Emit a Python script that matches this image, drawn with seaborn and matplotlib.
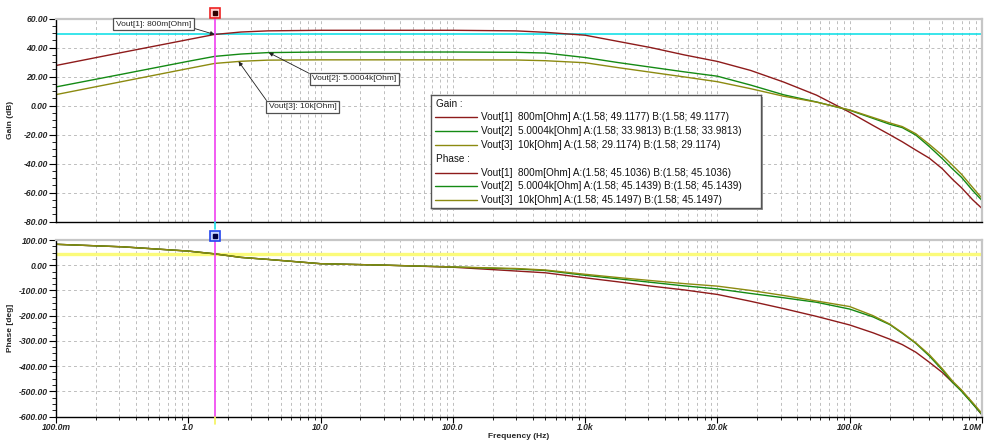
import matplotlib
matplotlib.use("Agg")
import numpy as np
import pandas as pd
import matplotlib.pyplot as plt
import matplotlib.transforms as mtransforms
from matplotlib.patches import Rectangle
from matplotlib.ticker import FixedLocator, LogLocator, MultipleLocator, NullFormatter
import seaborn as sns

# ---- data -------------------------------------------------------------
freq_hz = [0.1, 0.316, 1.0, 1.58, 2.5, 4.0, 10.0, 31.6, 100.0, 300.0, 500.0,
           1e3, 1.78e3, 3.16e3, 5.62e3, 1e4, 1.78e4, 3.16e4, 5.62e4, 1e5,
           1.5e5, 2e5, 2.5e5, 3.16e5, 4e5, 5e5, 6e5, 7e5, 8.5e5, 1e6]

series_names = ["Vout[1]", "Vout[2]", "Vout[3]"]
series_loads = ["800m[Ohm]", "5.0004k[Ohm]", "10k[Ohm]"]

gain_vout1 = [27.7, 36.7, 45.6, 49.1177, 50.8, 51.6, 52.0, 52.0, 52.0, 51.6, 50.6,
              48.6, 44.3, 40.0, 35.0, 30.5, 24.3, 16.3, 7.2, -4.6,
              -13.7, -20.0, -25.0, -30.7, -36.3, -43.5, -51.0, -56.7, -65.0, -71.0]
gain_vout2 = [12.9, 21.7, 30.6, 33.9813, 35.6, 36.6, 37.0, 37.0, 37.0, 36.8, 36.3,
              33.2, 29.7, 26.5, 23.3, 20.3, 14.2, 7.5, 2.5, -3.2,
              -8.8, -12.8, -15.2, -20.3, -28.3, -36.5, -43.8, -49.5, -58.6, -65.5]
gain_vout3 = [7.6, 16.6, 25.6, 29.1174, 30.6, 31.4, 31.6, 31.6, 31.6, 31.5, 31.0,
              29.6, 26.2, 23.0, 19.8, 16.5, 11.7, 6.5, 2.4, -3.0,
              -8.2, -11.9, -14.5, -19.4, -26.8, -34.3, -41.3, -47.4, -56.5, -64.0]

phase_vout1 = [83, 73, 56, 45.1036, 31, 23, 6, 0, -8, -23, -30,
               -50, -66, -83, -98, -116, -143, -172, -203, -237,
               -268, -293, -315, -345, -385, -425, -465, -497, -548, -594]
phase_vout2 = [83, 73, 56, 45.1439, 31, 23, 6, 0, -7, -15, -21,
               -40, -54, -68, -82, -94, -112, -129, -147, -174,
               -205, -235, -270, -310, -360, -415, -465, -500, -550, -592]
phase_vout3 = [83, 73, 56, 45.1497, 31, 23, 6, 0, -7, -13, -19,
               -36, -49, -61, -73, -83, -100, -120, -142, -164,
               -200, -233, -268, -308, -355, -410, -460, -495, -545, -588]

cursor_freq = 1.58
gain_cursor = [49.1177, 33.9813, 29.1174]
phase_cursor = [45.1036, 45.1439, 45.1497]

decade_ticks = [0.1, 1, 10, 100, 1e3, 1e4, 1e5, 1e6]
decade_labels = ["100.0m", "1.0", "10.0", "100.0", "1.0k", "10.0k", "100.0k", "1.0M"]
gain_ticks = [-80, -60, -40, -20, 0, 20, 40, 60]
phase_ticks = [-600, -500, -400, -300, -200, -100, 0, 100]

line_colors = ["#8e1b1b", "#148a14", "#8c8a10"]

# ---- long-form tables for seaborn ------------------------------------------
gain_df = pd.concat([
    pd.DataFrame({"freq": freq_hz, "value": v, "series": n})
    for n, v in zip(series_names, [gain_vout1, gain_vout2, gain_vout3])
])
phase_df = pd.concat([
    pd.DataFrame({"freq": freq_hz, "value": v, "series": n})
    for n, v in zip(series_names, [phase_vout1, phase_vout2, phase_vout3])
])

sns.set_theme(style="white")
plt.rcParams["font.family"] = ["Liberation Sans", "DejaVu Sans"]

W, H = 986, 445
fig = plt.figure(figsize=(W / 100, H / 100), dpi=100)
fig.patch.set_facecolor("white")

x0, x1 = 56, 982
ax_g = fig.add_axes([x0 / W, 1 - 221.5 / H, (x1 - x0) / W, (221.5 - 18.7) / H])
ax_p = fig.add_axes([x0 / W, 1 - 416.5 / H, (x1 - x0) / W, (416.5 - 240) / H])

grid_kw = dict(color="#bdbdbd", linestyle=(0, (3, 3)), linewidth=0.7)
tick_font = dict(family="Liberation Sans", weight="bold", style="italic", size=6.2)

for ax, df, ticks, minor in ((ax_g, gain_df, gain_ticks, 5), (ax_p, phase_df, phase_ticks, 25)):
    sns.lineplot(data=df, x="freq", y="value", hue="series", hue_order=series_names,
                 palette=line_colors, estimator=None, sort=False, legend=False,
                 linewidth=1.0, ax=ax)
    ax.set_xscale("log")
    ax.set_xlim(0.1, 1e6)
    ax.set_ylim(ticks[0], ticks[-1])
    ax.xaxis.set_major_locator(FixedLocator(decade_ticks))
    ax.xaxis.set_minor_locator(LogLocator(base=10, subs=np.arange(2, 10)))
    ax.xaxis.set_minor_formatter(NullFormatter())
    ax.yaxis.set_major_locator(FixedLocator(ticks))
    ax.yaxis.set_minor_locator(MultipleLocator(minor))
    ax.set_yticklabels([f"{t:.2f}" for t in ticks], fontdict=tick_font)
    ax.grid(which="both", axis="x", **grid_kw)
    ax.grid(which="major", axis="y", **grid_kw)
    ax.set_axisbelow(True)
    ax.set_facecolor("white")
    for side in ("top", "right"):
        ax.spines[side].set_color("#c6c6c6")
        ax.spines[side].set_linewidth(1.6)
    for side in ("left", "bottom"):
        ax.spines[side].set_color("black")
        ax.spines[side].set_linewidth(1.0)
    ax.tick_params(axis="y", which="major", direction="out", length=5, width=0.8,
                   color="black", pad=1, left=True)
    ax.tick_params(axis="y", which="minor", direction="out", length=3, width=0.6,
                   color="black", left=True)
    ax.set_xlabel("")
    ax.yaxis.set_label_coords((14 - x0) / (x1 - x0), 0.5)

ax_g.tick_params(axis="x", which="both", length=0, labelbottom=False)
ax_p.tick_params(axis="x", which="major", direction="out", length=4, width=0.8,
                 color="black", pad=1, bottom=True)
ax_p.tick_params(axis="x", which="minor", direction="out", length=2.5, width=0.6,
                 color="black", bottom=True)
ax_p.set_xticklabels(decade_labels, fontdict=tick_font)
ax_p.get_xticklabels()[-1].set_horizontalalignment("right")

label_font = dict(family="Liberation Sans", weight="bold", size=6)
ax_g.set_ylabel("Gain (dB)", fontdict=label_font)
ax_p.set_ylabel("Phase [deg]", fontdict=label_font)
fig.text((x0 + x1) / 2 / W, 1 - 437 / H, "Frequency (Hz)", ha="center", va="center",
         fontdict=label_font)

# ---- cursor: level lines, vertical marker line and handles ---------------------------
ax_g.axhline(gain_cursor[0], color="#16e0e8", linewidth=1.2, zorder=1.5)
ax_p.axhline(phase_cursor[0], color="#fbfb7a", linewidth=2.4, zorder=1.5)

blend_g = mtransforms.blended_transform_factory(ax_g.transData, ax_g.transAxes)
blend_p = mtransforms.blended_transform_factory(ax_p.transData, ax_p.transAxes)

ax_g.plot([cursor_freq, cursor_freq], [0, 1.028], transform=blend_g, color="#f040f0",
          linewidth=1.2, clip_on=False, zorder=4)
ax_g.plot([cursor_freq, cursor_freq], [-0.037, 0], transform=blend_g, color="#16e0e8",
          linewidth=1.2, clip_on=False, zorder=4)
ax_p.plot([cursor_freq, cursor_freq], [0, 1.02], transform=blend_p, color="#f040f0",
          linewidth=1.2, clip_on=False, zorder=4)
ax_p.plot([cursor_freq, cursor_freq], [-0.04, 0], transform=blend_p, color="#f4f45a",
          linewidth=1.2, clip_on=False, zorder=4)

ax_g.plot([cursor_freq], [1.028], transform=blend_g, marker="s", markersize=6.5,
          markerfacecolor="#ffd0d0", markeredgecolor="#ee2222", markeredgewidth=1.2,
          clip_on=False, zorder=6)
ax_g.plot([cursor_freq], [1.028], transform=blend_g, marker="s", markersize=2.6,
          color="#300000", clip_on=False, zorder=7)
ax_p.plot([cursor_freq], [1.02], transform=blend_p, marker="s", markersize=6.5,
          markerfacecolor="#c8d4ff", markeredgecolor="#2244ee", markeredgewidth=1.2,
          clip_on=False, zorder=6)
ax_p.plot([cursor_freq], [1.02], transform=blend_p, marker="s", markersize=2.6,
          color="#000040", clip_on=False, zorder=7)

# ---- curve tags -------------------------------------------------------------------
tag_box = dict(boxstyle="square,pad=0.3", facecolor="white", edgecolor="#505050", linewidth=0.9)
tags = [
    (f"{series_names[0]}: {series_loads[0]}", (cursor_freq, gain_cursor[0]), (153.5, H - 24), (1, 0)),
    (f"{series_names[1]}: {series_loads[1]}", (4.06, 36.6), (354.5, H - 78.5), (0, 1)),
    (f"{series_names[2]}: {series_loads[2]}", (2.4, 30.5), (302.5, H - 107), (0, 1)),
]
for text, xy, xytext, rel in tags:
    ax_g.annotate(text, xy=xy, xycoords="data", xytext=xytext, textcoords="figure pixels",
                  ha="center", va="center", fontsize=6, family="Liberation Sans",
                  bbox=tag_box, zorder=8,
                  arrowprops=dict(arrowstyle="-|>", color="#202020", linewidth=0.6,
                                  mutation_scale=6, relpos=rel, shrinkA=0, shrinkB=0))

# ---- cursor readout box --------------------------------------------------------------
lx0, lx1, ly0, ly1 = 431, 761, 95, 208
shadow = Rectangle(((lx0 + 2) / W, 1 - (ly1 + 2) / H), (lx1 - lx0) / W, (ly1 - ly0) / H,
                   transform=fig.transFigure, facecolor="#9a9a9a", edgecolor="none", zorder=3)
fig.patches.append(shadow)
ax_l = fig.add_axes([lx0 / W, 1 - ly1 / H, (lx1 - lx0) / W, (ly1 - ly0) / H])
ax_l.set_zorder(5)
ax_l.set_xlim(lx0, lx1)
ax_l.set_ylim(ly1, ly0)
ax_l.set_xticks([])
ax_l.set_yticks([])
ax_l.set_facecolor("white")
for s in ax_l.spines.values():
    s.set_color("#555555")
    s.set_linewidth(1.0)

row_y = [103.5 + 13.8 * i for i in range(8)]
leg_font = dict(family="Liberation Sans", size=7.2, color="#111111")
rows = [("Gain :", None)]
for i in range(3):
    rows.append((f"{series_names[i]}  {series_loads[i]} A:({cursor_freq:.2f}; {gain_cursor[i]:.4f}) "
                 f"B:({cursor_freq:.2f}; {gain_cursor[i]:.4f})", line_colors[i]))
rows.append(("Phase :", None))
for i in range(3):
    rows.append((f"{series_names[i]}  {series_loads[i]} A:({cursor_freq:.2f}; {phase_cursor[i]:.4f}) "
                 f"B:({cursor_freq:.2f}; {phase_cursor[i]:.4f})", line_colors[i]))
for y, (text, color) in zip(row_y, rows):
    if color is None:
        ax_l.text(436, y, text, va="center", ha="left", fontdict=leg_font)
    else:
        ax_l.plot([435, 477], [y, y], color=color, linewidth=1.0)
        ax_l.text(481, y, text, va="center", ha="left", fontdict=leg_font)

fig.savefig("out.png", dpi=100, facecolor="white")
